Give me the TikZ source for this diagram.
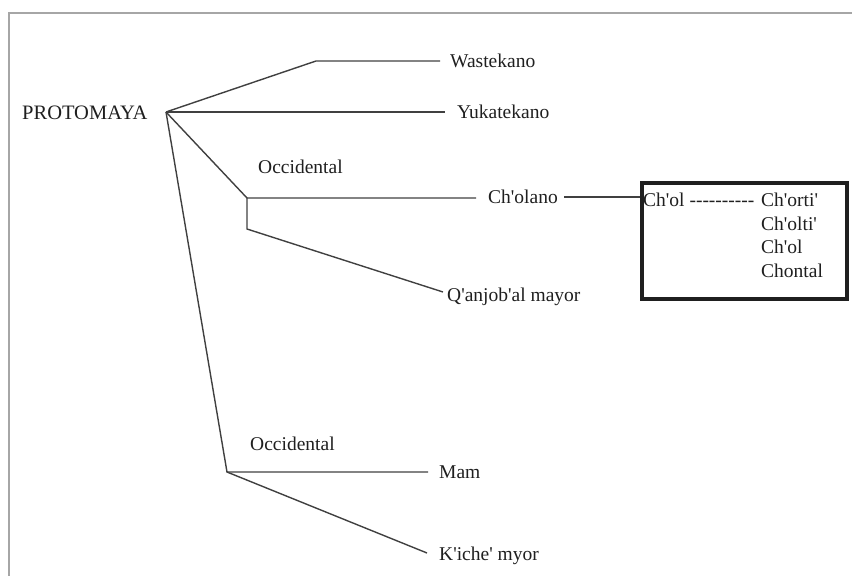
\documentclass[tikz,border=0pt]{standalone}
\usepackage{fontspec}
\newfontfamily\treefont{Liberation Serif}
\begin{document}
\begin{tikzpicture}[x=1pt,y=-1pt,
  lbl/.style={font=\treefont\fontsize{19.5}{23}\selectfont, inner sep=0pt,
              anchor=base west, text=black!88},
  branch/.style={line width=1.4pt, draw=black!75},
  frameline/.style={line width=2pt, draw=black!35},
  listbox/.style={line width=3.6pt, draw=black!88, minimum width=205pt,
                  minimum height=116pt, inner sep=0pt, anchor=north west}]
\useasboundingbox (0,0) rectangle (852,576);
% outer frame (top and left only)
\draw[frameline] (9,576) -- (9,13) -- (852,13);

% labels
\node[lbl, font=\treefont\fontsize{20.5}{23}\selectfont] (proto) at (22,119.5) {PROTOMAYA};
\node[lbl] (wast)  at (450,67)    {Wastekano};
\node[lbl] (yuk)   at (457,118.5) {Yukatekano};
\node[lbl] (occA)  at (258,173)   {Occidental};
\node[lbl] (cholano) at (488,203) {Ch'olano};
\node[lbl] (qanj)  at (447,301.5) {Q'anjob'al mayor};
\node[lbl] (occB)  at (250,450)   {Occidental};
\node[lbl] (mam)   at (439,478.5) {Mam};
\node[lbl] (kiche) at (439,560)   {K'iche' myor};

% branching points
\coordinate (root)  at (166,112);
\coordinate (wbend) at (316,61);
\coordinate (wjoin) at (247,198);
\coordinate (wknee) at (247,229);
\coordinate (sjoin) at (227,472);

% branch ends just before the labels
\coordinate (wastE)  at (440,61);
\coordinate (yukE)   at (445,112);
\coordinate (cholE)  at (476,198);
\coordinate (qanjE)  at (443,292);
\coordinate (mamE)   at (428,472);
\coordinate (kicheE) at (427,553);

% tree
\draw[branch] (root) -- (wbend) -- (wastE);
\draw[branch] (root) -- (yukE);
\draw[branch] (root) -- (wjoin) -- (cholE);
\draw[branch] (wjoin) -- (wknee) -- (qanjE);
\draw[branch] (root) -- (sjoin) -- (mamE);
\draw[branch] (sjoin) -- (kicheE);

% Ch'ol subgroup box
\node[listbox] (box) at (640,181) {};
\coordinate (cholOut) at (564,197);
\draw[branch] (cholOut) -- (cholOut -| box.west);
\node[lbl] (chol)   at (643,206.7) {Ch'ol ----------};
\node[lbl] (chorti) at (761,206.7) {Ch'orti'};
\node[lbl] (cholti) at (761,230.5) {Ch'olti'};
\node[lbl] (cholB)  at (761,253.8) {Ch'ol};
\node[lbl] (chont)  at (761,277)   {Chontal};
\end{tikzpicture}
\end{document}
